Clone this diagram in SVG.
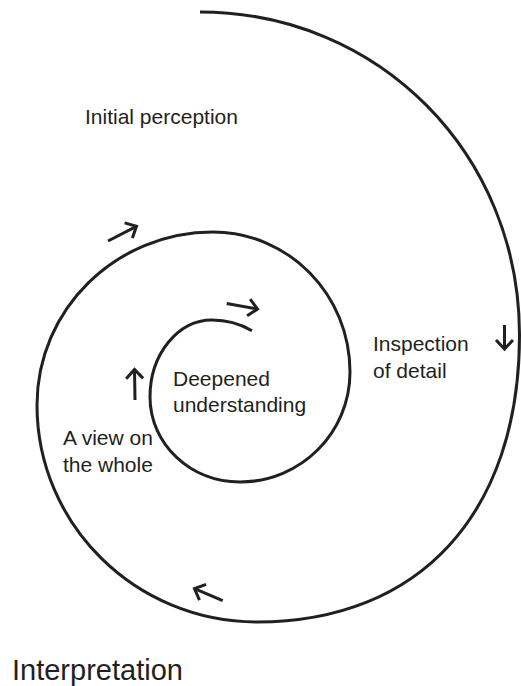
<svg xmlns="http://www.w3.org/2000/svg" width="521" height="686" viewBox="0 0 521 686">
  <style>
    .lbl { font-family: "Liberation Sans", Arial, sans-serif; font-size: 21px; fill: #231f20; }
    .big { font-family: "Liberation Sans", Arial, sans-serif; font-size: 29px; fill: #231f20; }
    .spiral { fill: none; stroke: #231f20; stroke-width: 3; stroke-linecap: butt; }
    .arr { fill: none; stroke: #231f20; stroke-width: 3; marker-end: url(#ah); }
  </style>
  <defs>
    <marker id="ah" markerUnits="userSpaceOnUse" markerWidth="24" markerHeight="24" viewBox="-12 -12 24 24" refX="0" refY="0" orient="auto" overflow="visible">
      <path d="M-9,-8.5 L0,0 L-9,8.5" fill="none" stroke="#231f20" stroke-width="3"/>
    </marker>
  </defs>
  <rect width="521" height="686" fill="#ffffff"/>
  <g id="connectors">
    <path id="spiral" class="spiral" d="M200,12 C378.9,12 519.5,154.1 519.5,335 C519.5,512.9 419.8,622 257,622 C135.5,622 37,524.8 37,405 C37,309.5 115.8,232 213,232 C288.7,232 350,294.7 350,372 C350,432.8 300.8,482 240,482 C190.3,482 150,443.9 150,397 C150,354.5 177.8,320 212,320 C226,320 239.9,323.7 252,330.7"/>
    <path id="arrow-outer-top" class="arr" d="M108,241 L136.5,226.3"/>
    <path id="arrow-inner-top" class="arr" d="M226.7,303.5 L257.5,309.1"/>
    <path id="arrow-left" class="arr" d="M135,400 L134.5,369.5"/>
    <path id="arrow-right" class="arr" d="M504.5,325 L504.5,349"/>
    <path id="arrow-bottom" class="arr" d="M222.7,600.7 L194.5,588.7"/>
  </g>
  <g id="node-initial-perception">
    <text class="lbl" x="85" y="124">Initial perception</text>
  </g>
  <g id="node-inspection-of-detail">
    <text class="lbl" x="373" y="351">Inspection</text>
    <text class="lbl" x="373" y="378">of detail</text>
  </g>
  <g id="node-deepened-understanding">
    <text class="lbl" x="173" y="386">Deepened</text>
    <text class="lbl" x="173" y="412">understanding</text>
  </g>
  <g id="node-view-on-whole">
    <text class="lbl" x="63" y="445">A view on</text>
    <text class="lbl" x="63" y="472">the whole</text>
  </g>
  <g id="node-interpretation">
    <text class="big" x="12" y="680">Interpretation</text>
  </g>
</svg>
